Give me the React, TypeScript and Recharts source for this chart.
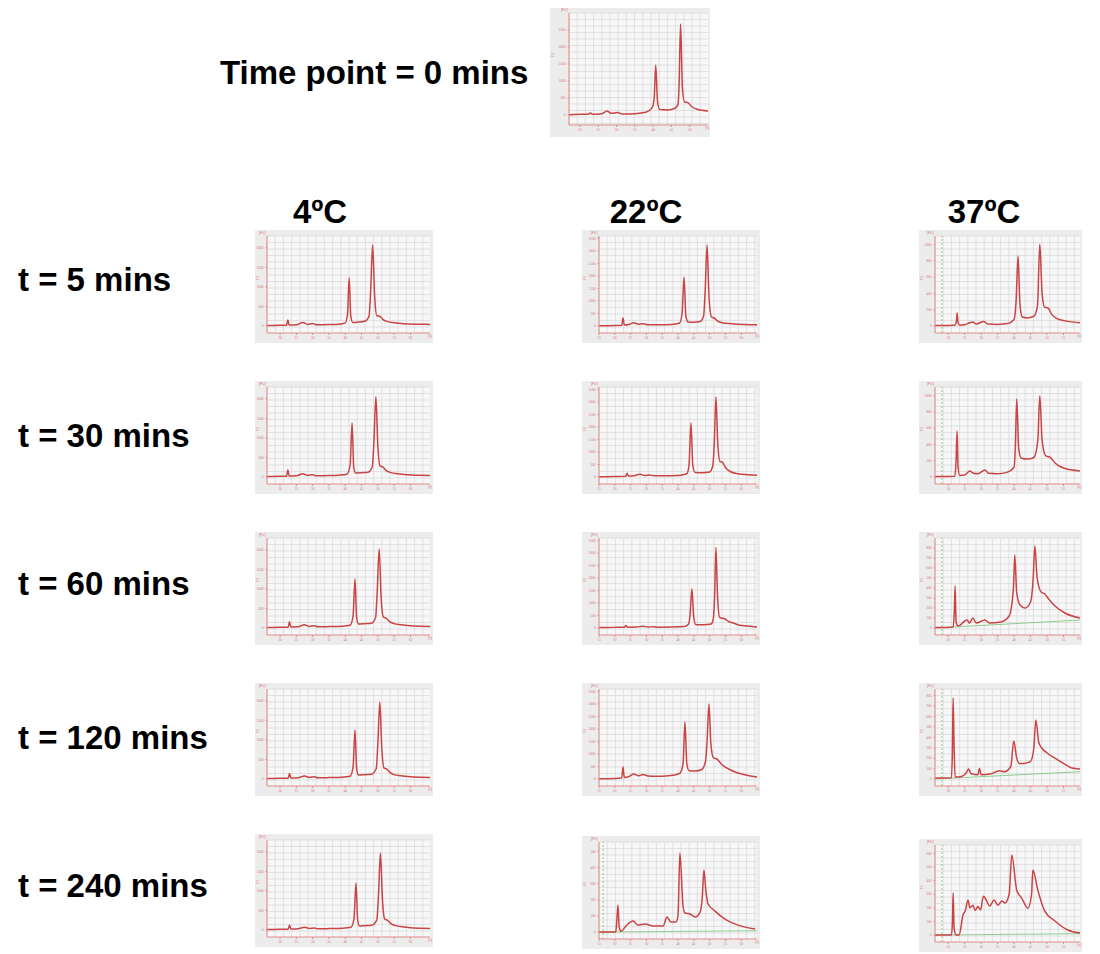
import React from 'react';
import { LineChart, Line, XAxis, YAxis, CartesianGrid, ReferenceLine } from 'recharts';

type Pt = [number, number];

// electropherogram traces: [time s, FU]
const t0: Pt[] = [[17,10],[20,20],[22.4,25],[22.8,60],[23.5,20],[26,40],[27.4,120],[28.5,50],[30.4,70],[31.5,30],[35,40],[38,80],[39.7,210],[40.3,500],[40.7,1470],[41.2,400],[41.8,160],[44,150],[46,200],[46.8,320],[47.1,900],[47.5,2680],[48,800],[48.6,380],[49.4,370],[50.5,250],[52,170],[55,120]];

const c4_5: Pt[] = [[16,10],[20,15],[22,20],[22.4,150],[22.8,25],[25,30],[27,90],[28.5,40],[30,60],[31,30],[35,35],[38,45],[40,80],[40.7,300],[41.2,1230],[41.7,250],[42.3,90],[44,100],[46,120],[47.3,250],[47.8,900],[48.4,2075],[49,800],[49.7,260],[50.6,250],[51.5,170],[53,110],[55,80],[58,55],[62,45],[66,40]];
const c4_30: Pt[] = [[16,10],[20,15],[22,20],[22.4,180],[22.8,25],[25,30],[27,80],[28.5,40],[30,55],[31,30],[35,35],[38,45],[40.5,70],[41.5,300],[42.1,1380],[42.6,260],[43.2,100],[45,110],[47,120],[48.3,260],[48.8,900],[49.4,2050],[50,800],[50.7,280],[51.5,260],[52.5,170],[54,110],[56,80],[59,55],[63,45],[66,40]];
const c4_60: Pt[] = [[16,10],[20,15],[22.5,20],[22.9,160],[23.3,25],[25.5,30],[27.5,80],[29,40],[30.5,55],[31.5,30],[35,35],[39,45],[41.5,70],[42.4,300],[43,1250],[43.5,260],[44.1,100],[46,110],[48,120],[49.3,260],[49.8,900],[50.4,2020],[51,800],[51.7,280],[52.5,250],[53.5,170],[55,110],[57,80],[60,55],[63,45],[66,40]];
const c4_120: Pt[] = [[16,10],[20,15],[22.5,20],[22.9,140],[23.3,25],[25.5,30],[27.5,75],[29,40],[30.5,55],[31.5,30],[35,35],[39,45],[41.5,70],[42.4,300],[43,1250],[43.5,260],[44.1,100],[46,110],[48,120],[49.5,260],[50,900],[50.6,1970],[51.2,800],[51.9,280],[52.7,260],[53.7,170],[55,110],[57,80],[60,55],[63,45],[66,40]];
const c4_240: Pt[] = [[16,10],[20,15],[22.5,20],[22.9,130],[23.3,25],[25.5,30],[27.5,70],[29,40],[30.5,50],[31.5,30],[35,35],[39,45],[41.8,70],[42.7,300],[43.3,1200],[43.8,260],[44.4,100],[46,110],[48,120],[49.7,260],[50.2,900],[50.8,1970],[51.4,800],[52.1,280],[52.9,250],[53.9,170],[55.5,110],[57.5,80],[60,55],[63,45],[66,40]];

const c22_5: Pt[] = [[15,10],[20,20],[22.2,30],[22.6,320],[23,40],[24.5,60],[26,130],[27.5,70],[29,90],[30.5,50],[34,50],[38,60],[40.5,120],[41.3,500],[41.9,1960],[42.5,400],[43.2,160],[45,150],[47,180],[48.1,400],[48.6,1400],[49.2,3240],[49.8,1200],[50.6,360],[51.4,320],[52.5,200],[54,130],[57,90],[61,60],[65,50]];
const c22_30: Pt[] = [[15,10],[20,20],[23.5,30],[23.9,150],[24.3,40],[26,50],[28,110],[29.5,60],[31,80],[32.5,50],[36,50],[40,60],[42.8,130],[43.5,500],[44.1,2160],[44.7,450],[45.4,180],[47.5,170],[50,200],[51,450],[51.5,1400],[52,3200],[52.6,1300],[53.3,620],[54,600],[55,380],[56.5,220],[59,130],[62,90],[65,70]];
const c22_60: Pt[] = [[15,20],[20,25],[23,30],[23.5,100],[24,35],[27,40],[28.9,70],[30.5,40],[32.4,50],[33.5,35],[38,40],[42,60],[43.3,150],[43.8,500],[44.4,1570],[45,400],[45.7,130],[48,130],[50.5,160],[51.2,400],[51.6,1300],[52,3220],[52.5,1300],[53.2,420],[54.9,360],[56,260],[57.4,200],[59.5,110],[61.8,80],[65,40]];
const c22_120: Pt[] = [[15,10],[20,20],[22.2,40],[22.6,480],[23,60],[24.5,100],[26,200],[27.5,130],[29,180],[30.5,120],[33,110],[37,130],[40.5,220],[41.6,600],[42.2,2280],[42.8,600],[43.5,330],[45.5,320],[47.5,380],[48.7,700],[49.2,1500],[49.8,3000],[50.4,1400],[51.2,850],[52.3,800],[54,560],[56,400],[58.5,260],[61.5,160],[65,80]];
const c22_240: Pt[] = [[15,0],[20.3,0],[20.6,60],[21,167],[21.4,30],[22,5],[23.5,37],[25.8,68],[27.3,43],[29.6,50],[32.1,37],[35.3,37],[36.5,93],[37.8,62],[39.4,62],[40,100],[40.6,490],[41.6,160],[42.2,118],[43.8,112],[45.4,93],[47,124],[47.7,220],[48.2,385],[48.8,260],[49.5,174],[51.7,130],[54.9,80],[59,43],[64.4,19]];
const b22_240: Pt[] = [[15,0],[65,8]];

const c37_5: Pt[] = [[16,5],[18,5],[22,10],[22.5,60],[22.7,160],[23,40],[23.5,10],[25,15],[26.5,40],[27.5,50],[28.5,25],[30.8,55],[32,25],[35,20],[38,30],[40,80],[40.6,300],[41.2,860],[41.8,250],[42.5,110],[44,100],[46,120],[47.1,250],[47.8,1006],[48.5,400],[49.3,230],[50.2,225],[51.5,140],[53,90],[56,60],[60,40]];
const c37_30: Pt[] = [[16,5],[18,5],[22,10],[22.4,200],[22.7,565],[23,120],[23.5,20],[25,25],[26.6,74],[27.5,50],[29,40],[31.2,86],[32.2,45],[35,40],[38,60],[40,120],[40.4,400],[40.8,960],[41.4,350],[42.2,230],[44,220],[46,240],[47.2,450],[47.8,1000],[48.5,450],[49.6,260],[50.8,246],[52.5,170],[55,110],[60,74]];
const c37_60: Pt[] = [[16,5],[18,5],[21.5,10],[21.9,200],[22.1,420],[22.4,60],[23,20],[25.7,80],[26.5,50],[27.5,100],[28.5,50],[31.2,80],[32.5,50],[36,60],[38.5,120],[39.8,400],[40.2,730],[40.8,350],[41.8,230],[43.3,200],[45,260],[45.8,500],[46.3,820],[47,500],[48.2,360],[49.3,340],[50.5,290],[52.4,220],[55.4,150],[60,100]];
const b37_60: Pt[] = [[16,0],[60,80]];
const c37_120: Pt[] = [[16,10],[21,12],[21.3,300],[21.5,780],[21.8,300],[22.1,20],[24,25],[25.5,60],[26.2,95],[27,50],[29,40],[29.5,100],[30,40],[33,50],[35.5,80],[37,70],[39,120],[39.9,365],[40.8,200],[41.5,150],[43,150],[45,170],[46,300],[46.6,566],[47.5,350],[48.4,298],[50,250],[52.4,200],[55,150],[57.5,106],[60,96]];
const b37_120: Pt[] = [[16,0],[60,70]];
const c37_240: Pt[] = [[16,0],[21,0],[21.3,100],[21.5,309],[21.8,50],[22.4,0],[23.3,0],[24.5,147],[25.2,180],[26,257],[26.6,200],[27.5,220],[28.2,180],[29,210],[29.8,185],[30.7,286],[31.7,250],[32.6,213],[33.9,257],[35.1,220],[36.3,250],[37.2,235],[38.5,300],[39.3,588],[40.8,330],[42.3,272],[44.2,198],[45.3,300],[45.7,478],[47.2,330],[49.3,176],[52.4,103],[56.3,37],[60,15]];
const b37_240: Pt[] = [[16,0],[60,10]];

const rowLabels = ['t = 5 mins', 't = 30 mins', 't = 60 mins', 't = 120 mins', 't = 240 mins'];
const colLabels = ['4ºC', '22ºC', '37ºC'];

const ticksX1 = [20, 25, 30, 35, 40, 45, 50, 55, 60];
const ticksX2 = [15, 20, 25, 30, 35, 40, 45, 50, 55, 60];
const ticksX3 = [20, 25, 30, 35, 40, 45, 50, 55];
const ticksY2000 = [0, 500, 1000, 1500, 2000];
const ticksY3500 = [0, 500, 1000, 1500, 2000, 2500, 3000, 3500];
const ticksY500 = [0, 100, 200, 300, 400, 500];
const ticksY1000 = [0, 200, 400, 600, 800, 1000];
const ticksY800 = [0, 100, 200, 300, 400, 500, 600, 700, 800];
const ticksY600 = [0, 100, 200, 300, 400, 500, 600];

type Spec = {
  data: Pt[]; left: number; top: number; w: number; h: number; yw: number; mr: number; mt: number; xh: number;
  xd: [number, number]; xt: number[]; yd: [number, number]; yt: number[]; marker?: number; base?: Pt[];
};

const steps = (a: number, b: number, s: number) => {
  const out: number[] = [];
  for (let x = a; x <= b + 0.01; x += s) out.push(x);
  return out;
};

const pink = '#e48a8a';
const tickStyle = { fontSize: 3.5, fill: '#d87878' };

function Panel({ p }: { p: Spec }) {
  const rows = p.data.map(([t, v]) => ({ t, v }));
  const base = p.base ? p.base.map(([t, v]) => ({ t, v })) : null;
  return (
    <div style={{ position: 'absolute', left: p.left, top: p.top, width: p.w, height: p.h, background: '#ececec' }}>
      <LineChart width={p.w} height={p.h} data={rows} margin={{ top: p.mt, right: p.mr, left: 0, bottom: 0 }}>
        <CartesianGrid
          fill="#f7f7f7"
          stroke="#d3d3d3"
          strokeWidth={0.6}
          verticalCoordinatesGenerator={({ offset }: any) => steps(offset.left, offset.left + offset.width, 8.2)}
          horizontalCoordinatesGenerator={({ offset }: any) => steps(offset.top, offset.top + offset.height, 6.5)}
        />
        <XAxis type="number" dataKey="t" domain={p.xd} ticks={p.xt} interval={0} allowDataOverflow height={p.xh}
          stroke={pink} tickSize={2} tick={tickStyle} />
        <YAxis type="number" domain={p.yd} ticks={p.yt} interval={0} allowDataOverflow width={p.yw}
          stroke={pink} tickSize={1.5} tick={tickStyle} />
        {p.marker !== undefined && (
          <ReferenceLine x={p.marker} stroke="#7dbb7d" strokeDasharray="2 2" strokeWidth={0.8} />
        )}
        {base && (
          <Line data={base} dataKey="v" type="linear" stroke="#86c686" strokeWidth={0.9} dot={false} isAnimationActive={false} />
        )}
        <Line dataKey="v" type="monotone" stroke="#c94444" strokeWidth={1.5} strokeLinejoin="round" dot={false} isAnimationActive={false} />
      </LineChart>
      <span style={{ position: 'absolute', left: p.yw - 8, top: p.mt - 5, fontSize: 3.5, color: '#d87878', fontFamily: 'Arial' }}>[FU]</span>
      <span style={{ position: 'absolute', right: 1, top: p.h - p.xh + 1, fontSize: 3.5, color: '#d87878', fontFamily: 'Arial' }}>[s]</span>
      <span style={{ position: 'absolute', left: 1, top: p.mt + 40, fontSize: 3.5, color: '#d87878', fontFamily: 'Arial', transform: 'rotate(-90deg)' }}>FU</span>
    </div>
  );
}

const rowTops = [230, 381, 532, 683, 834];
const col1 = { left: 255, w: 178, yw: 12, mr: 3, xd: [16, 66] as [number, number], xt: ticksX1 };
const col2 = { left: 582, w: 178, yw: 17, mr: 3, xd: [15, 65] as [number, number], xt: ticksX2 };
const col3 = { left: 919, w: 163, yw: 16, mr: 2, xd: [16, 60] as [number, number], xt: ticksX3 };
const rowCommon = { h: 113, mt: 6, xh: 10 };

const panels: Spec[] = [
  { data: t0, left: 550, top: 8, w: 160, h: 129, yw: 19, mr: 2, mt: 5, xh: 12, xd: [17, 55], xt: [20, 25, 30, 35, 40, 45, 50], yd: [-294, 3000], yt: [0, 500, 1000, 1500, 2000, 2500] },
  ...[c4_5, c4_30, c4_60, c4_120, c4_240].map((d, i) => ({ ...col1, ...rowCommon, data: d, top: rowTops[i], yd: [-180, 2300] as [number, number], yt: ticksY2000 })),
  ...[c22_5, c22_30, c22_60, c22_120].map((d, i) => ({ ...col2, ...rowCommon, data: d, top: rowTops[i], yd: [-280, 3600] as [number, number], yt: ticksY3500 })),
  { ...col2, ...rowCommon, data: c22_240, top: 836, yd: [-43, 558], yt: ticksY500, marker: 16.3, base: b22_240 },
  { ...col3, ...rowCommon, data: c37_5, top: rowTops[0], yd: [-86, 1107], yt: ticksY1000, marker: 18.1 },
  { ...col3, ...rowCommon, data: c37_30, top: rowTops[1], yd: [-86, 1107], yt: ticksY1000, marker: 18.1 },
  { ...col3, ...rowCommon, data: c37_60, top: rowTops[2], yd: [-70, 900], yt: ticksY800, marker: 18.1, base: b37_60 },
  { ...col3, ...rowCommon, data: c37_120, top: rowTops[3], yd: [-67, 864], yt: ticksY800, marker: 18.1, base: b37_120 },
  { ...col3, ...rowCommon, data: c37_240, top: 839, yd: [-51, 662], yt: ticksY600, marker: 18.1, base: b37_240 },
];

const txt: React.CSSProperties = {
  position: 'absolute', fontFamily: '"Liberation Sans", Arial, sans-serif', fontWeight: 'bold', fontSize: 33,
  lineHeight: '33px', color: '#000', whiteSpace: 'nowrap',
};

const rowCenters = [280, 436, 584, 738, 886];
const colCenters = [320, 646, 984];

export default function App() {
  return (
    <div style={{ position: 'absolute', left: 0, top: 0, width: 1100, height: 954, background: '#fff', overflow: 'hidden' }}>
      <div style={{ ...txt, left: 220, top: 56 }}>Time point = 0 mins</div>
      {colLabels.map((c, i) => (
        <div key={c} style={{ ...txt, left: colCenters[i] - 70, width: 140, textAlign: 'center', top: 195 }}>{c}</div>
      ))}
      {rowLabels.map((r, i) => (
        <div key={r} style={{ ...txt, left: 18, top: rowCenters[i] - 17 }}>{r}</div>
      ))}
      {panels.map((p, i) => <Panel key={i} p={p} />)}
    </div>
  );
}
